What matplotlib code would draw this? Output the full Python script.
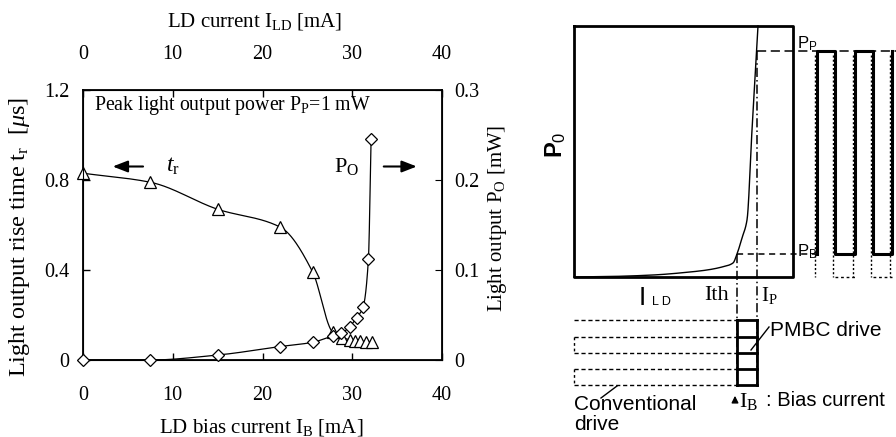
import numpy as np
import matplotlib
matplotlib.use("Agg")
import matplotlib.pyplot as plt

plt.rcParams['font.family'] = ['Liberation Serif', 'DejaVu Serif']
plt.rcParams['mathtext.fontset'] = 'custom'
plt.rcParams['mathtext.rm'] = 'Liberation Serif'
plt.rcParams['mathtext.it'] = 'Liberation Serif:italic'
plt.rcParams['mathtext.sf'] = 'Liberation Sans'

# ---------------- data (left chart) ----------------
tr_current = [0, 7.5, 15, 22, 25.6, 27.8, 28.9, 29.7, 30.3, 30.9, 31.5, 32.2]
tr_values = [0.83, 0.79, 0.67, 0.59, 0.39, 0.125, 0.10, 0.09, 0.085, 0.083, 0.082, 0.08]
po_current = [0, 7.5, 15, 22, 25.6, 27.8, 28.8, 29.7, 30.5, 31.2, 31.8, 32.1]
po_values = [0.0, 0.0, 0.0055, 0.015, 0.0197, 0.0267, 0.0296, 0.037, 0.047, 0.0585, 0.112, 0.246]
x_ticks = [0, 10, 20, 30, 40]
tr_ticks = [0, 0.4, 0.8, 1.2]
po_ticks = [0, 0.1, 0.2, 0.3]

# ---------------- schematic (right panel, pixel-like units) ----------------
li_x = [574, 610, 653, 690, 707, 722, 733, 737, 742, 747, 752, 758]
li_y = [277, 276.5, 275, 272, 270, 267, 263, 254, 238, 220, 130, 26]
box_l, box_r, box_t, box_b = 574, 793, 26, 277
i_th, i_p = 737, 757
p_p, p_b = 51, 254
pulse_edges = [817, 835, 855, 873, 892]
drive_levels = [320, 337, 353, 369, 385]


def pchip(x, y, n=40):
    # monotone cubic (Fritsch-Carlson) line drawn through the measured points
    x = np.asarray(x, float); y = np.asarray(y, float)
    h = np.diff(x); d = np.diff(y) / h
    m = np.zeros_like(x)
    for k in range(1, len(x) - 1):
        if d[k - 1] * d[k] > 0:
            w1 = 2 * h[k] + h[k - 1]; w2 = h[k] + 2 * h[k - 1]
            m[k] = (w1 + w2) / (w1 / d[k - 1] + w2 / d[k])
    m[0] = d[0]; m[-1] = d[-1]
    xs, ys = [], []
    for k in range(len(x) - 1):
        t = np.linspace(0, 1, n)
        h00 = 2 * t ** 3 - 3 * t ** 2 + 1; h10 = t ** 3 - 2 * t ** 2 + t
        h01 = -2 * t ** 3 + 3 * t ** 2; h11 = t ** 3 - t ** 2
        xs.append(x[k] + t * h[k])
        ys.append(h00 * y[k] + h10 * h[k] * m[k] + h01 * y[k + 1] + h11 * h[k] * m[k + 1])
    return np.concatenate(xs), np.concatenate(ys)


fig = plt.figure(figsize=(8.96, 4.37), dpi=100)

ax = fig.add_axes([83 / 896, 1 - 360 / 437, (442 - 83) / 896, 270 / 437])
ax.set_xlim(0, 40)
ax.set_ylim(0, 1.2)
ax.set_xticks(x_ticks)
ax.set_yticks(tr_ticks)
ax.set_yticklabels(['0', '0.4', '0.8', '1.2'])
ax.tick_params(direction='in', length=5, labelsize=14.5, width=1)
ax.tick_params(axis='x', pad=19, top=True, labeltop=True)
ax.tick_params(axis='y', pad=10)
for s in ax.spines.values():
    s.set_linewidth(1.3)

sx, sy = pchip(tr_current, tr_values)
ax.plot(sx, sy, color='black', lw=0.9, zorder=2)
ax.plot(tr_current, tr_values, linestyle='none', marker='^', markersize=8,
        markerfacecolor='white', markeredgecolor='black', markeredgewidth=0.9,
        zorder=3, clip_on=False)

ax2 = ax.twinx()
ax2.set_ylim(0, 0.3)
ax2.set_yticks(po_ticks)
ax2.set_yticklabels(['0', '0.1', '0.2', '0.3'])
ax2.tick_params(direction='in', length=5, labelsize=14.5, pad=9)
px, py = pchip(po_current, po_values)
ax2.plot(px, py, color='black', lw=0.9, zorder=2)
ax2.plot(po_current, po_values, linestyle='none', marker='D', markersize=6,
         markerfacecolor='white', markeredgecolor='black', markeredgewidth=0.9,
         zorder=3, clip_on=False)

fig.text(261 / 896, 1 - 427 / 437, r'LD bias current I$_{\mathrm{B}}$ [mA]', fontsize=15,
         ha='center', va='center')
fig.text(255 / 896, 1 - 21 / 437, r'LD current I$_{\mathrm{LD}}$ [mA]', fontsize=15,
         ha='center', va='center')
fig.text(20 / 896, 1 - 237 / 437, r'Light output rise time t$_{\mathrm{r}}$  [$\mu$s]',
         fontsize=17.5, rotation=90, ha='center', va='center')
fig.text(497 / 896, 1 - 218 / 437, r'Light output P$_{\mathrm{O}}$ [mW]',
         fontsize=15, rotation=90, ha='center', va='center')

ax.text(1.2, 1.13, r'Peak light output power P$_{\mathrm{P}}$=1 mW', fontsize=14.3, va='center')
ax.annotate('', xy=(3.0, 0.86), xytext=(7.0, 0.86),
            arrowprops=dict(arrowstyle='-|>,head_length=0.9,head_width=0.35', color='black', lw=1.5))
ax.text(9.2, 0.86, r'$\mathit{t}_{\mathrm{r}}$', fontsize=17, va='center')
ax.text(28.0, 0.86, r'P$_{\mathrm{O}}$', fontsize=16, va='center')
ax.annotate('', xy=(37.5, 0.86), xytext=(33.2, 0.86),
            arrowprops=dict(arrowstyle='-|>,head_length=0.9,head_width=0.35', color='black', lw=1.5))

# ---------------- right schematic ----------------
sa = fig.add_axes([520 / 896, 0, 376 / 896, 1])
sa.set_xlim(520, 896)
sa.set_ylim(437, 0)
sa.axis('off')

sa.plot([box_l, box_r, box_r, box_l, box_l], [box_t, box_t, box_b, box_b, box_t],
        color='black', lw=2.0)
cx, cy = pchip(li_x, li_y, n=20)
sa.plot(cx, cy, color='black', lw=1.0)

# Pp and Pb levels
sa.plot([i_p, 896], [p_p, p_p], color='black', lw=1.1, ls=(0, (6, 3)))
sa.plot([i_th, pulse_edges[0]], [p_b, p_b], color='black', lw=1.1, ls=(0, (4, 3)))
# Ith and Ip lines
sa.plot([i_p, i_p], [p_p, drive_levels[-1]], color='black', lw=1.1, ls=(0, (6, 2, 1, 2)))
sa.plot([i_th, i_th], [p_b, drive_levels[-1]], color='black', lw=1.1, ls=(0, (6, 2, 1, 2)))

# PMBC output pulses (solid) and conventional (dotted)
pe = pulse_edges
sa.plot([pe[0], pe[0], pe[1], pe[1], pe[2], pe[2], pe[3], pe[3], pe[4], pe[4]],
        [p_b, p_p, p_p, p_b, p_b, p_p, p_p, p_b, p_b, p_p], color='black', lw=2.2)
for e in pe:
    sa.plot([e - 2, e - 2], [p_p + 4, box_b], color='black', lw=1.0, ls=(0, (1.5, 1.5)))
for a, b in [(pe[1], pe[2]), (pe[3], pe[4])]:
    sa.plot([a, b], [box_b, box_b], color='black', lw=1.0, ls=(0, (2, 2)))

# PMBC drive (solid) and conventional drive (dashed) current waveforms
sa.plot([i_th, i_th], [drive_levels[0], drive_levels[-1]], color='black', lw=2.0)
sa.plot([i_p, i_p], [drive_levels[0], drive_levels[-1]], color='black', lw=2.0)
for lv in drive_levels:
    sa.plot([i_th, i_p], [lv, lv], color='black', lw=2.0)
    sa.plot([box_l, i_th], [lv, lv], color='black', lw=1.0, ls=(0, (3, 2)))
for a, b in [(drive_levels[1], drive_levels[2]), (drive_levels[3], drive_levels[4])]:
    sa.plot([box_l, box_l], [a, b], color='black', lw=1.0, ls=(0, (2, 2)))

# leaders
sa.plot([751, 769], [350, 327], color='black', lw=1.0)
sa.plot([617, 601], [386, 398], color='black', lw=1.0)

sans = ['Liberation Sans', 'DejaVu Sans']
sa.text(556, 145, r'P$_{\mathsf{0}}$', fontsize=17, rotation=90, ha='center', va='center',
        family=sans, fontweight='bold')
sa.text(797, 44, r'P$_{\mathsf{P}}$', fontsize=12, family=sans, va='center')
sa.text(797, 252, r'P$_{\mathsf{B}}$', fontsize=12, family=sans, va='center')
sa.text(639, 298, 'I', fontsize=19, family=sans, va='center')
sa.text(652, 302, 'L D', fontsize=9, family=sans, va='center')
sa.text(704, 295, 'Ith', fontsize=16, va='center')
sa.text(761, 296, r'I$_{\mathrm{P}}$', fontsize=15, va='center')
sa.text(770, 330, 'PMBC drive', fontsize=15, family=sans, va='center')
sa.text(574, 405, 'Conventional', fontsize=15, family=sans, va='center')
sa.text(574, 425, 'drive', fontsize=15, family=sans, va='center')
sa.annotate('', xy=(735, 393), xytext=(735, 404),
            arrowprops=dict(arrowstyle='-|>,head_length=0.4,head_width=0.2', color='black', lw=1))
sa.text(739, 401, r'I$_{\mathrm{B}}$', fontsize=16, va='center')
sa.text(766, 401, ': Bias current', fontsize=14.5, family=sans, va='center')

fig.savefig('out.png', dpi=100)
